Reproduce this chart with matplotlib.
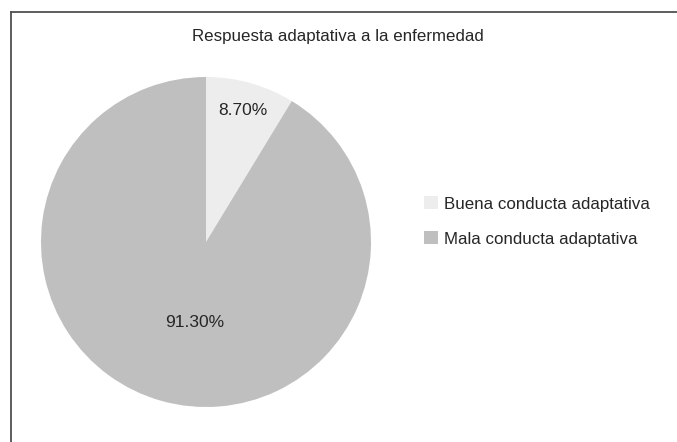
import matplotlib
matplotlib.use("Agg")
import matplotlib.pyplot as plt
from matplotlib.patches import Rectangle
from matplotlib.lines import Line2D

plt.rcParams['font.family'] = ['Liberation Sans', 'DejaVu Sans']

title = "Respuesta adaptativa a la enfermedad"
categories = ["Buena conducta adaptativa", "Mala conducta adaptativa"]
values = [8.70, 91.30]
colors = ["#ededed", "#bfbfbf"]

W, H = 677, 442
fig = plt.figure(figsize=(W / 100, H / 100), dpi=100)
fig.patch.set_facecolor("white")

# frame lines (top and left)
fig.add_artist(Line2D([11 / W, 1.0], [1 - 12 / H, 1 - 12 / H], transform=fig.transFigure,
                      color="#505050", lw=1.3))
fig.add_artist(Line2D([11 / W, 11 / W], [0, 1 - 12 / H], transform=fig.transFigure,
                      color="#505050", lw=1.3))

cx, cy, r = 206, 242, 165
ax = fig.add_axes([(cx - r) / W, (H - cy - r) / H, 2 * r / W, 2 * r / H])
wedges, texts, autotexts = ax.pie(values, colors=colors, startangle=90, counterclock=False,
                                  autopct=lambda p: f"{p:.2f}%", pctdistance=0.83,
                                  textprops=dict(fontsize=12.5, color="#262626"),
                                  wedgeprops=dict(linewidth=0))
ax.set_xlim(-1, 1)
ax.set_ylim(-1, 1)
ax.set_aspect("equal")
autotexts[1].set_position((-0.07, -0.49))

fig.text(338 / W, 1 - 37 / H, title, ha="center", va="center", fontsize=12.2, color="#262626")

handles = [Rectangle((0, 0), 1, 1, facecolor=c, edgecolor="none") for c in colors]
fig.legend(handles, categories, loc="center left", bbox_to_anchor=(424 / W, 1 - 221.5 / H),
           frameon=False, fontsize=12.2, handlelength=0.8, handleheight=0.8,
           handletextpad=0.4, labelspacing=1.15, borderpad=0, borderaxespad=0,
           labelcolor="#262626")

fig.savefig("out.png", dpi=100, facecolor="white")
